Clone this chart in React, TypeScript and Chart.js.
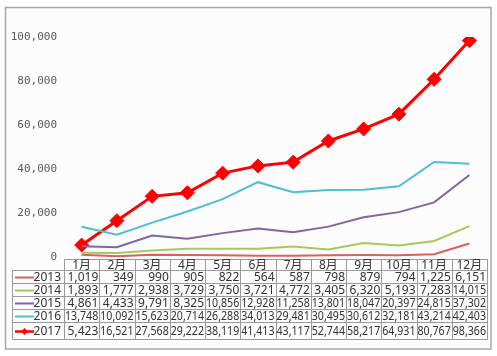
import React, { useEffect, useRef } from "react";
import { Chart, registerables } from "chart.js";

Chart.register(...registerables);

const months = ["1月", "2月", "3月", "4月", "5月", "6月", "7月", "8月", "9月", "10月", "11月", "12月"];
const years = ["2013", "2014", "2015", "2016", "2017"];
const d2013 = [1019, 349, 990, 905, 822, 564, 587, 798, 879, 794, 1225, 6151];
const d2014 = [1893, 1777, 2938, 3729, 3750, 3721, 4772, 3405, 6320, 5193, 7283, 14015];
const d2015 = [4861, 4433, 9791, 8325, 10856, 12928, 11258, 13801, 18047, 20397, 24815, 37302];
const d2016 = [13748, 10092, 15623, 20714, 26288, 34013, 29481, 30495, 30612, 32181, 43214, 42403];
const d2017 = [5423, 16521, 27568, 29222, 38119, 41413, 43117, 52744, 58217, 64931, 80767, 98366];
const yTicks = [0, 20000, 40000, 60000, 80000, 100000];

const colors = ["#d9605c", "#a9c85c", "#8064a8", "#4dbfd2", "#ff0000"];
const seriesData = [d2013, d2014, d2015, d2016, d2017];

const TABLE_FONT = "12px 'Noto Sans', 'Noto Sans CJK JP', sans-serif";

const framePlugin = {
  id: "frame",
  beforeDraw(chart: any) {
    const ctx = chart.ctx;
    ctx.save();
    ctx.fillStyle = "#ffffff";
    ctx.fillRect(0, 0, chart.width, chart.height);
    ctx.fillStyle = "#fcfcfc";
    ctx.fillRect(5.5, 7.5, 485.5, 341.5);
    ctx.strokeStyle = "#a8a8a8";
    ctx.lineWidth = 1.5;
    ctx.strokeRect(5.5, 7.5, 485.5, 341.5);
    ctx.restore();
  },
};

const tablePlugin = {
  id: "dataTable",
  afterDraw(chart: any) {
    const ctx = chart.ctx;
    const xs = chart.scales.x;
    const area = chart.chartArea;
    const n = months.length;
    const colW = (area.right - area.left) / n;
    const leftEdge = 12.5;
    const headerTop = 259.5;
    const rowEdges = [270.5, 283.5, 296.5, 309.5, 322.5, 339.5];
    ctx.save();
    ctx.strokeStyle = "#9a9a9a";
    ctx.lineWidth = 1;
    ctx.beginPath();
    ctx.moveTo(Math.round(area.left) + 0.5, headerTop);
    ctx.lineTo(Math.round(area.right) + 0.5, headerTop);
    for (const y of rowEdges) {
      ctx.moveTo(leftEdge, y);
      ctx.lineTo(Math.round(area.right) + 0.5, y);
    }
    for (let i = 0; i <= n; i++) {
      const x = Math.round(area.left + i * colW) + 0.5;
      ctx.moveTo(x, headerTop);
      ctx.lineTo(x, rowEdges[rowEdges.length - 1]);
    }
    ctx.moveTo(leftEdge, rowEdges[0]);
    ctx.lineTo(leftEdge, rowEdges[rowEdges.length - 1]);
    ctx.stroke();

    ctx.font = TABLE_FONT;
    ctx.fillStyle = "#333333";
    ctx.textBaseline = "middle";
    ctx.textAlign = "center";
    for (let i = 0; i < n; i++) {
      const cx = xs.getPixelForValue(i);
      ctx.fillText(months[i], cx, (headerTop + rowEdges[0]) / 2 + 0.5);
    }
    for (let r = 0; r < years.length; r++) {
      const yc = (rowEdges[r] + rowEdges[r + 1]) / 2 + 0.5;
      ctx.strokeStyle = colors[r];
      ctx.lineWidth = r === 4 ? 2.5 : 2;
      ctx.beginPath();
      ctx.moveTo(15, yc);
      ctx.lineTo(34, yc);
      ctx.stroke();
      if (r === 4) {
        ctx.fillStyle = colors[r];
        ctx.beginPath();
        ctx.moveTo(24.5, yc - 3.5);
        ctx.lineTo(28, yc);
        ctx.lineTo(24.5, yc + 3.5);
        ctx.lineTo(21, yc);
        ctx.closePath();
        ctx.fill();
      }
      ctx.fillStyle = "#333333";
      ctx.textAlign = "right";
      ctx.fillText(years[r], area.left - 3, yc);
      const vals = seriesData[r];
      for (let i = 0; i < n; i++) {
        const right = area.left + (i + 1) * colW - 1;
        ctx.fillText(vals[i].toLocaleString("en-US"), right, yc, colW - 2);
      }
    }
    ctx.restore();
  },
};

export default function App() {
  const ref = useRef<HTMLCanvasElement | null>(null);
  useEffect(() => {
    if (!ref.current) return;
    const datasets = years.map((y, i) => ({
      label: y,
      data: seriesData[i],
      borderColor: colors[i],
      backgroundColor: colors[i],
      borderWidth: i === 4 ? 3 : 2,
      pointRadius: i === 4 ? 7 : 0,
      pointHoverRadius: i === 4 ? 7 : 0,
      pointStyle: "rectRot" as const,
      pointBorderWidth: 1,
      tension: 0,
      fill: false,
    }));
    const chart = new Chart(ref.current, {
      type: "line",
      data: { labels: months, datasets },
      options: {
        animation: false,
        responsive: false,
        layout: { padding: { top: 37, bottom: 99, left: 0, right: 10 } },
        plugins: { legend: { display: false }, tooltip: { enabled: false } },
        scales: {
          x: { type: "category", offset: true, display: false },
          y: {
            min: 0,
            max: 100000,
            afterFit(scale: any) {
              scale.width = 64;
            },
            afterBuildTicks(scale: any) {
              scale.ticks = yTicks.map((v) => ({ value: v }));
            },
            grid: { display: false, drawTicks: false },
            border: { display: false },
            ticks: {
              padding: 7,
              color: "#595959",
              font: { family: "'DejaVu Sans Mono', monospace", size: 11 },
              callback: (v: any) => Number(v).toLocaleString("en-US"),
            },
          },
        },
      },
      plugins: [framePlugin, tablePlugin],
    });
    return () => chart.destroy();
  }, []);
  return (
    <div style={{ position: "absolute", left: 0, top: 0, width: 497, height: 356, background: "#fff" }}>
      <canvas ref={ref} width={497} height={356} style={{ display: "block" }} />
    </div>
  );
}
